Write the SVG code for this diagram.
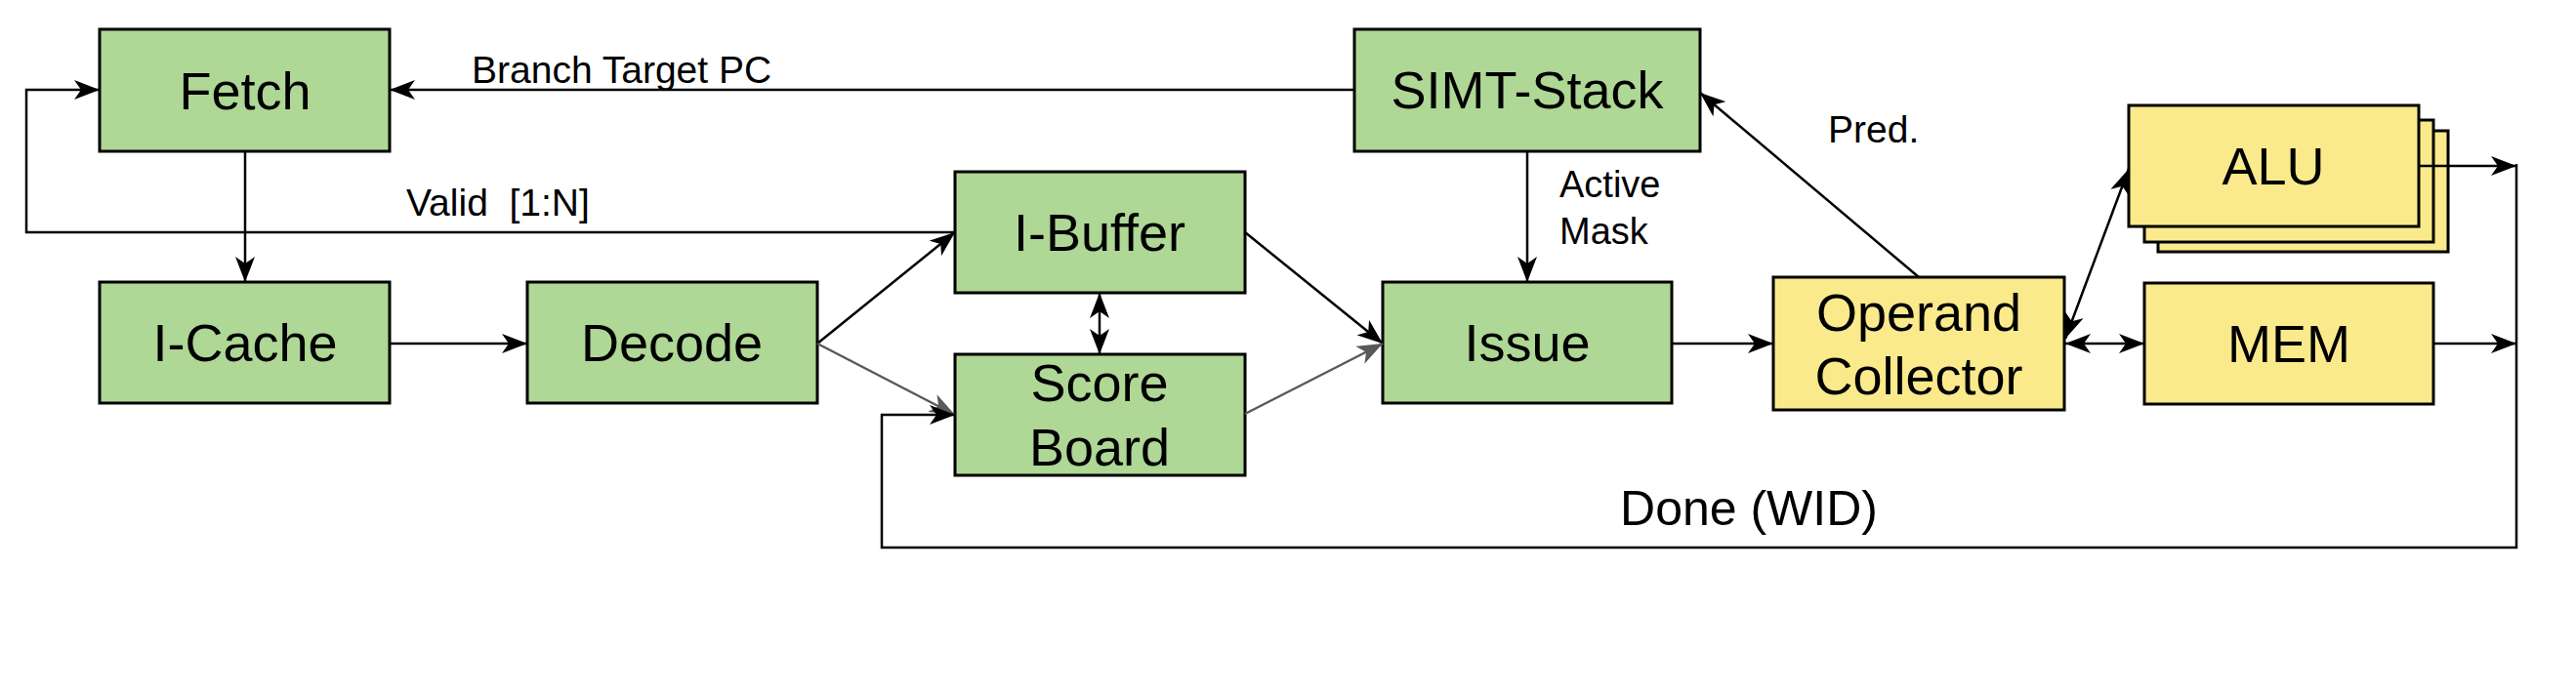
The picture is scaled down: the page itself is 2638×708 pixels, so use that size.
<svg xmlns="http://www.w3.org/2000/svg" width="2638" height="708" viewBox="0 0 2638 708">
<style>
  .g { fill: #afd795; stroke: #000; stroke-width: 3; }
  .y { fill: #fbea8b; stroke: #000; stroke-width: 3; }
  .lbl { font-family: "Liberation Sans", Arial, sans-serif; font-size: 54px; fill: #000; text-anchor: middle; }
  .el { font-family: "Liberation Sans", Arial, sans-serif; font-size: 39px; fill: #000; white-space: pre; }
  .c { fill: none; stroke: #000; stroke-width: 2.5; }
  .cg { fill: none; stroke: #595959; stroke-width: 2.5; }
</style>
<defs>
  <marker id="a" markerUnits="userSpaceOnUse" viewBox="0 0 26 20" refX="26" refY="10" markerWidth="26" markerHeight="20" orient="auto-start-reverse">
    <path d="M26,10 L0,0 L7,10 L0,20 Z" fill="#000"/>
  </marker>
  <marker id="ag" markerUnits="userSpaceOnUse" viewBox="0 0 26 20" refX="26" refY="10" markerWidth="26" markerHeight="20" orient="auto">
    <path d="M26,10 L0,0 L7,10 L0,20 Z" fill="#595959"/>
  </marker>
</defs>
<rect width="2638" height="708" fill="#fff"/>

<g id="fetch"><rect class="g" x="102" y="30" width="297" height="125"/><text class="lbl" x="251" y="112">Fetch</text></g>
<g id="icache"><rect class="g" x="102" y="289" width="297" height="124"/><text class="lbl" x="251" y="370">I-Cache</text></g>
<g id="decode"><rect class="g" x="540" y="289" width="297" height="124"/><text class="lbl" x="688" y="370">Decode</text></g>
<g id="ibuffer"><rect class="g" x="978" y="176" width="297" height="124"/><text class="lbl" x="1126" y="257">I-Buffer</text></g>
<g id="scoreboard"><rect class="g" x="978" y="363" width="297" height="124"/><text class="lbl" x="1126" y="411">Score</text><text class="lbl" x="1126" y="477">Board</text></g>
<g id="simt"><rect class="g" x="1387" y="30" width="354" height="125"/><text class="lbl" x="1564" y="111">SIMT-Stack</text></g>
<g id="issue"><rect class="g" x="1416" y="289" width="296" height="124"/><text class="lbl" x="1564" y="370">Issue</text></g>
<g id="operand"><rect class="y" x="1816" y="284" width="298" height="136"/><text class="lbl" x="1965" y="339">Operand</text><text class="lbl" x="1965" y="404">Collector</text></g>
<g id="alu">
  <rect class="y" x="2210" y="134" width="297" height="124"/>
  <rect class="y" x="2196" y="123" width="296" height="125"/>
  <rect class="y" x="2180" y="108" width="297" height="124"/>
  <text class="lbl" x="2328" y="189">ALU</text>
</g>
<g id="mem"><rect class="y" x="2196" y="290" width="296" height="124"/><text class="lbl" x="2344" y="371">MEM</text></g>

<g id="connectors">
  <line class="c" x1="1387" y1="92" x2="399" y2="92" marker-end="url(#a)"/>
  <polyline class="c" points="978,238 27,238 27,92 102,92" marker-end="url(#a)"/>
  <line class="c" x1="251" y1="155" x2="251" y2="289" marker-end="url(#a)"/>
  <line class="c" x1="399" y1="352" x2="540" y2="352" marker-end="url(#a)"/>
  <line class="c" x1="837" y1="352" x2="978" y2="238" marker-end="url(#a)"/>
  <line class="cg" x1="837" y1="352" x2="978" y2="425" marker-end="url(#ag)"/>
  <line class="c" x1="1126" y1="300" x2="1126" y2="363" marker-start="url(#a)" marker-end="url(#a)"/>
  <line class="c" x1="1275" y1="238" x2="1416" y2="352" marker-end="url(#a)"/>
  <line class="cg" x1="1275" y1="424" x2="1416" y2="352" marker-end="url(#ag)"/>
  <line class="c" x1="1564" y1="155" x2="1564" y2="289" marker-end="url(#a)"/>
  <line class="c" x1="1712" y1="352" x2="1816" y2="352" marker-end="url(#a)"/>
  <line class="c" x1="1965" y1="284" x2="1741" y2="95" marker-end="url(#a)"/>
  <line class="c" x1="2115" y1="347" x2="2180" y2="173" marker-start="url(#a)" marker-end="url(#a)"/>
  <line class="c" x1="2115" y1="352" x2="2196" y2="352" marker-start="url(#a)" marker-end="url(#a)"/>
  <line class="c" x1="2477" y1="170" x2="2577" y2="170" marker-end="url(#a)"/>
  <line class="c" x1="2492" y1="352" x2="2577" y2="352" marker-end="url(#a)"/>
  <polyline class="c" points="2577,168 2577,561 903,561 903,425 978,425" marker-end="url(#a)"/>
</g>

<g id="labels">
  <text class="el" x="483" y="85">Branch Target PC</text>
  <text class="el" x="416" y="221">Valid  [1:N]</text>
  <text class="el" x="1597" y="202" style="font-size:38px">Active</text>
  <text class="el" x="1597" y="250" style="font-size:38px">Mask</text>
  <text class="el" x="1872" y="146">Pred.</text>
  <text class="el" x="1791" y="538" style="font-size:50px;text-anchor:middle">Done (WID)</text>
</g>
</svg>
